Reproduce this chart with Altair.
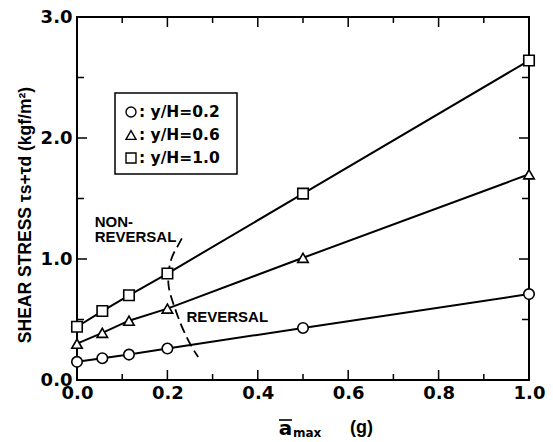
import altair as alt
import pandas as pd

# ---- data ----
x_vals = [0.0, 0.056, 0.115, 0.2, 0.5, 1.0]
tau_02 = [0.15, 0.18, 0.21, 0.26, 0.43, 0.71]
tau_06 = [0.30, 0.39, 0.49, 0.59, 1.01, 1.70]
tau_10 = [0.44, 0.57, 0.70, 0.88, 1.54, 2.64]
series_names = ["y/H=0.2", "y/H=0.6", "y/H=1.0"]
series_shapes = ["circle", "triangle-up", "square"]

# dashed boundary between non-reversal and reversal
boundary_x = [0.232, 0.222, 0.209, 0.202, 0.201, 0.212, 0.231, 0.253, 0.268]
boundary_y = [1.17, 1.10, 1.02, 0.90, 0.77, 0.64, 0.44, 0.275, 0.19]

# ticks and labels
x_label_vals = [0.0, 0.2, 0.4, 0.6, 0.8, 1.0]
y_label_vals = [0.0, 1.0, 2.0, 3.0]
x_major_ticks = [0.2, 0.4, 0.6, 0.8]
x_minor_ticks = [0.1, 0.3, 0.5, 0.7, 0.9]
y_major_ticks = [1.0, 2.0]
y_minor_ticks = [0.5, 1.5, 2.5]

# annotations (data coordinates)
note_texts = ["NON-", "REVERSAL", "REVERSAL"]
note_x = [0.039, 0.039, 0.242]
note_y = [1.305, 1.185, 0.52]

legend_labels = [": y/H=0.2", ": y/H=0.6", ": y/H=1.0"]

W, H = 452, 363

rows = []
for name, vals in zip(series_names, [tau_02, tau_06, tau_10]):
    for xv, yv in zip(x_vals, vals):
        rows.append({"series": name, "a": xv, "tau": yv})
df = pd.DataFrame(rows)

xs = alt.Scale(domain=[0, 1], nice=False, zero=False)
ys = alt.Scale(domain=[0, 3], nice=False, zero=False)

X = alt.X("a:Q", scale=xs, axis=alt.Axis(values=x_label_vals, format=".1f", labelFlush=False,
                                          labelOverlap=False, labelPadding=4, title=None))
Y = alt.Y("tau:Q", scale=ys, axis=alt.Axis(values=y_label_vals, format=".1f",
                                            labelOverlap=False, labelPadding=5, title=None))

shape_enc = alt.Shape("series:N", scale=alt.Scale(domain=series_names, range=series_shapes), legend=None)

lines = alt.Chart(df).mark_line(color="black", strokeWidth=2).encode(
    x=X, y=Y, detail="series:N")
points = alt.Chart(df).mark_point(filled=True, fill="white", stroke="black", strokeWidth=1.6,
                                  opacity=1, size=110).encode(x=X, y=Y, shape=shape_enc)

bdf = pd.DataFrame({"a": boundary_x, "tau": boundary_y, "i": list(range(len(boundary_x)))})
boundary = alt.Chart(bdf).mark_line(color="black", strokeWidth=1.8, strokeDash=[10, 5],
                                    interpolate="basis").encode(
    x=alt.X("a:Q", scale=xs), y=alt.Y("tau:Q", scale=ys), order="i:Q")

def xticks(vals, y0, y1):
    return alt.Chart(pd.DataFrame({"a": vals})).mark_rule(color="black", strokeWidth=1.5).encode(
        x=alt.X("a:Q", scale=xs), y=alt.value(y0), y2=alt.value(y1))

def yticks(vals, x0, x1):
    return alt.Chart(pd.DataFrame({"tau": vals})).mark_rule(color="black", strokeWidth=1.5).encode(
        y=alt.Y("tau:Q", scale=ys), x=alt.value(x0), x2=alt.value(x1))

ticks = [
    xticks(x_major_ticks, H, H - 10), xticks(x_minor_ticks, H, H - 6),
    xticks(x_major_ticks, 0, 10), xticks(x_minor_ticks, 0, 6),
    yticks(y_major_ticks, 0, 10), yticks(y_minor_ticks, 0, 7),
    yticks(y_major_ticks, W, W - 10), yticks(y_minor_ticks, W, W - 7),
]

ndf = pd.DataFrame({"a": note_x, "tau": note_y, "t": note_texts})
notes = alt.Chart(ndf).mark_text(align="left", baseline="middle", font="Liberation Sans",
                                 fontWeight="bold", fontSize=15, color="black").encode(
    x=alt.X("a:Q", scale=xs), y=alt.Y("tau:Q", scale=ys), text="t:N")

# legend box
legend_layers = [
    alt.Chart(pd.DataFrame({"k": [0]})).mark_rect(fill="white", stroke="black", strokeWidth=1.5).encode(
        x=alt.value(38), x2=alt.value(160), y=alt.value(76), y2=alt.value(157))
]
row_y = [95, 118, 141]
for shp, lab, ry in zip(series_shapes, legend_labels, row_y):
    legend_layers.append(
        alt.Chart(pd.DataFrame({"k": [0]})).mark_point(shape=shp, filled=True, fill="white", stroke="black",
                                                       strokeWidth=1.4, opacity=1, size=100).encode(
            x=alt.value(54), y=alt.value(ry)))
    legend_layers.append(
        alt.Chart(pd.DataFrame({"k": [0]})).mark_text(align="left", baseline="middle", font="DejaVu Sans",
                                                      fontWeight="bold", fontSize=15.5, color="black").encode(
            x=alt.value(62), y=alt.value(ry), text=alt.value(lab)))

# axis titles
one = pd.DataFrame({"k": [0]})
y_title = alt.Chart(one).mark_text(angle=270, align="center", baseline="middle", font="Liberation Sans",
                                   fontWeight="bold", fontSize=17.5, color="black").encode(
    x=alt.value(-51), y=alt.value(198), text=alt.value("SHEAR STRESS τs+τd (kgf/m²)"))
a_txt = alt.Chart(one).mark_text(align="center", baseline="alphabetic", font="DejaVu Sans",
                                 fontWeight="bold", fontSize=20, color="black").encode(
    x=alt.value(208.5), y=alt.value(418), text=alt.value("a"))
a_bar = alt.Chart(one).mark_rule(color="black", strokeWidth=1.6).encode(
    x=alt.value(202), x2=alt.value(215), y=alt.value(403))
max_txt = alt.Chart(one).mark_text(align="left", baseline="alphabetic", font="DejaVu Sans",
                                   fontWeight="bold", fontSize=12, color="black").encode(
    x=alt.value(216), y=alt.value(420), text=alt.value("max"))
g_txt = alt.Chart(one).mark_text(align="left", baseline="middle", font="Liberation Sans",
                                 fontWeight="bold", fontSize=18, color="black").encode(
    x=alt.value(273), y=alt.value(411), text=alt.value("(g)"))

chart = alt.layer(
    lines, boundary, points, *ticks, notes, *legend_layers, y_title, a_txt, a_bar, max_txt, g_txt
).properties(
    width=W, height=H,
    autosize=alt.AutoSizeParams(type="none"),
    padding={"left": 69, "top": 9, "right": 16, "bottom": 62},
).configure_view(
    stroke="black", strokeWidth=2
).configure_axis(
    labelFont="DejaVu Sans", labelFontWeight="bold", labelFontSize=18, labelColor="black",
    ticks=False, domain=False, grid=False
)

chart.save("out.html", embed_options={"renderer": "svg", "actions": False})
